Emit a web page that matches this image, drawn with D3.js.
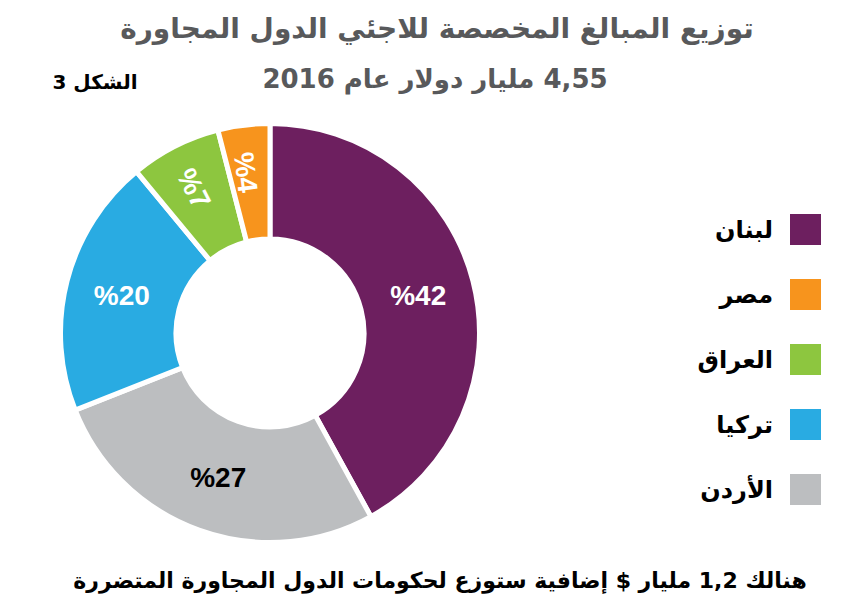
<!DOCTYPE html>
<html>
<head>
<meta charset="utf-8">
<script src="https://cdn.jsdelivr.net/npm/d3@7"></script>
<style>
  body { margin: 0; background: #fff; }
  svg { display: block; }
</style>
</head>
<body>
<script>
const width = 859;
const height = 612;

// data, clockwise from 12 o'clock
const countries = ["لبنان", "الأردن", "تركيا", "العراق", "مصر"];
const shares = [42, 27, 20, 7, 4];
const colors = ["#6d1f5f", "#bcbec0", "#29abe2", "#8dc63f", "#f7941d"];
const labelColors = ["#fff", "#000", "#fff", "#fff", "#fff"];
// legend order top to bottom
const legendOrder = ["لبنان", "مصر", "العراق", "تركيا", "الأردن"];

const title = "توزيع المبالغ المخصصة للاجئي الدول المجاورة";
const subtitle = "4,55 مليار دولار عام 2016";
const figLabel = "الشكل 3";
const note = "هنالك 1,2 مليار $ إضافية ستوزع لحكومات الدول المجاورة المتضررة";

const arabicFont = "'DejaVu Sans', sans-serif";
const numFont = "'Liberation Sans', Arial, sans-serif";

let svg = d3.select("body").append("svg")
  .attr("width", width)
  .attr("height", height);

// titles
svg.append("text")
  .attr("x", 437).attr("y", 38)
  .attr("text-anchor", "middle")
  .attr("direction", "rtl")
  .style("font-family", arabicFont)
  .style("font-weight", "bold")
  .style("font-size", "28px")
  .style("fill", "#58595b")
  .text(title);

svg.append("text")
  .attr("x", 435).attr("y", 88)
  .attr("text-anchor", "middle")
  .attr("direction", "rtl")
  .style("font-family", arabicFont)
  .style("font-weight", "bold")
  .style("font-size", "26px")
  .style("fill", "#58595b")
  .text(subtitle);

svg.append("text")
  .attr("x", 95).attr("y", 89)
  .attr("text-anchor", "middle")
  .attr("direction", "rtl")
  .style("font-family", arabicFont)
  .style("font-weight", "bold")
  .style("font-size", "20px")
  .style("fill", "#000")
  .text(figLabel);

// donut
const cx = 270, cy = 333;

let pie = d3.pie().sort(null).value(d => d);
let arcs = pie(shares);

let arc = d3.arc().innerRadius(94).outerRadius(209.5);
let labelArc = d3.arc().innerRadius(153).outerRadius(153);
let smallLabelArc = d3.arc().innerRadius(158).outerRadius(158);

let g = svg.append("g").attr("transform", `translate(${cx},${cy})`);

g.selectAll("path")
  .data(arcs)
  .enter().append("path")
  .attr("d", arc)
  .attr("fill", (d, i) => colors[i])
  .attr("stroke", "#fff")
  .attr("stroke-width", 5);

g.selectAll("text.pct")
  .data(arcs)
  .enter().append("text")
  .attr("class", "pct")
  .attr("transform", function(d) {
    let mid = (d.startAngle + d.endAngle) / 2 * 180 / Math.PI;
    // small slices get radial labels
    if (d.value < 10) {
      let c = smallLabelArc.centroid(d);
      return `translate(${c[0] - 4},${c[1] - 4}) rotate(${mid - 360 + 90})`;
    }
    let c = labelArc.centroid(d);
    return `translate(${c[0]},${c[1]})`;
  })
  .attr("text-anchor", "middle")
  .attr("dy", "0.36em")
  .style("font-family", numFont)
  .style("font-weight", "bold")
  .style("font-size", "28px")
  .style("fill", (d, i) => labelColors[i])
  .text(d => "%" + d.value);

// legend
let legend = svg.append("g");
let legendY = d3.scalePoint()
  .domain(legendOrder)
  .range([229.5, 489.5]);

legend.selectAll("rect")
  .data(legendOrder)
  .enter().append("rect")
  .attr("x", 790)
  .attr("y", d => legendY(d) - 15.5)
  .attr("width", 31)
  .attr("height", 31)
  .attr("fill", d => colors[countries.indexOf(d)]);

legend.selectAll("text")
  .data(legendOrder)
  .enter().append("text")
  .attr("x", 773)
  .attr("y", d => legendY(d) + 8)
  .attr("text-anchor", "end")
  .style("font-family", arabicFont)
  .style("font-weight", "bold")
  .style("font-size", "24px")
  .style("fill", "#000")
  .text(d => d);

// note under the chart
svg.append("text")
  .attr("x", 440).attr("y", 588)
  .attr("text-anchor", "middle")
  .attr("direction", "rtl")
  .style("font-family", arabicFont)
  .style("font-weight", "bold")
  .style("font-size", "22px")
  .style("fill", "#000")
  .text(note);
</script>
</body>
</html>
